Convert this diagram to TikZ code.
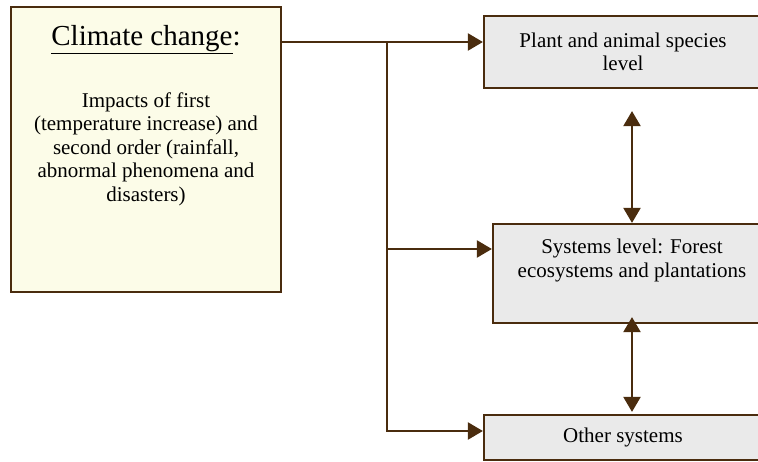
\documentclass[tikz,border=0pt]{standalone}
\usepackage{fontspec}
\setmainfont{Liberation Serif}
\usetikzlibrary{arrows.meta,calc}
\definecolor{barkbrown}{RGB}{74,44,14}
\definecolor{paleyellow}{RGB}{252,252,232}
\definecolor{palegray}{RGB}{234,234,234}
\tikzstyle{causebox}=[draw=barkbrown, fill=paleyellow, line width=2.2pt, minimum width=270, minimum height=285]
\tikzstyle{levelbox}=[draw=barkbrown, fill=palegray, line width=2.2pt, minimum width=278, align=center]
\tikzstyle{flow}=[draw=barkbrown, line width=2.2pt, -{Triangle[length=15pt,width=17pt]}]
\tikzstyle{twoway}=[draw=barkbrown, line width=2.2pt, {Triangle[length=15pt,width=17pt]}-{Triangle[length=15pt,width=17pt]}]

\begin{document}
\begin{tikzpicture}[x=1pt,y=1pt,font=\fontsize{21}{23.5}\selectfont]
  \path[use as bounding box,clip] (0,0) rectangle (758,461);
  \node[causebox] (cause) at (146,311.5) {};
  \node (title) at (146,421) {\fontsize{29}{32}\selectfont\underline{Climate change}:};
  \node[align=center] (impacts) at (146,312) {Impacts of first\\(temperature increase) and\\second order (rainfall,\\abnormal phenomena and\\disasters)};
  \node[levelbox, minimum height=72] (species) at (623,409) {Plant and animal species\\level};
  \node[levelbox, minimum height=99] (systems) at (632,187.5) {Systems level: Forest\\ecosystems and plantations\\\strut};
  \node[levelbox, minimum height=45] (other) at (623,23.5) {Other systems};
  \coordinate (fork) at (387,419);
  \coordinate (branch) at (387,212);
  \coordinate (corner) at (387,30);
  \coordinate (upper) at ($(species.south)+(9,-22)$);
  \coordinate (lower) at ($(other.north)+(9,2)$);
  \draw[flow] (cause.east |- fork) -- (species.west |- fork);
  \draw[flow] (branch) -- (systems.west |- branch);
  \draw[flow] (fork) -- (corner) -- (other.west |- corner);
  \draw[twoway] (upper) -- (systems.north);
  \draw[twoway] ([yshift=7pt]systems.south) -- (lower);
\end{tikzpicture}
\end{document}
